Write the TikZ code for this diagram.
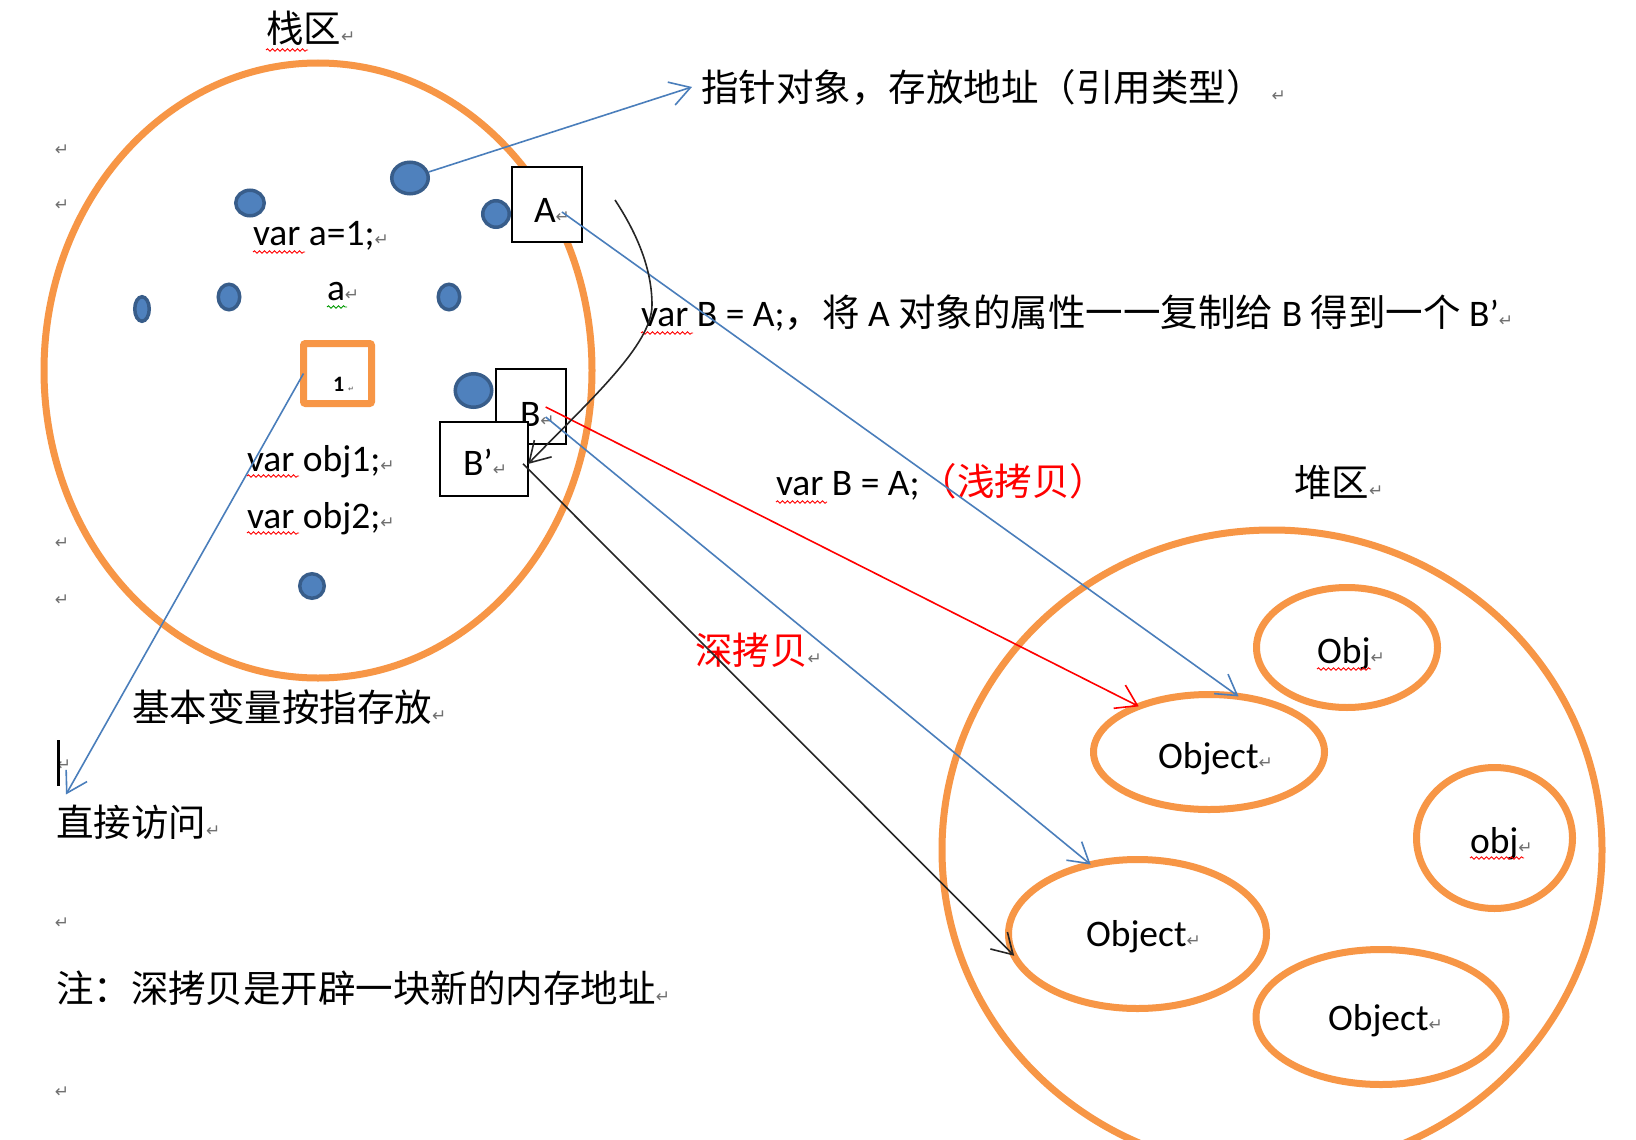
\documentclass[tikz,border=0pt]{standalone}
\usepackage{fontspec}
\setmainfont{Carlito}
\newfontfamily\cjk{Noto Sans CJK SC}
\newfontfamily\dvs{DejaVu Sans}
\usetikzlibrary{shapes.geometric,arrows.meta,decorations.pathmorphing,calc}
\definecolor{org}{HTML}{F79646}
\definecolor{dotf}{HTML}{4F81BD}
\definecolor{dotb}{HTML}{385D8A}
\definecolor{bline}{HTML}{4A7EBB}
\definecolor{retg}{HTML}{707070}
\newcommand\rmk{{\dvs\fontsize{17}{17}\selectfont\textcolor{retg}{↵}}}
\begin{document}
\begin{tikzpicture}[x=1pt,y=-1pt,
  txt/.style={inner sep=0pt,outer sep=0pt,anchor=base west,font=\fontsize{37.5}{45}\selectfont,text=black},
  oval/.style={ellipse,draw=org,line width=7pt,inner sep=0pt,outer sep=0pt},
  dot/.style={ellipse,fill=dotf,draw=dotb,line width=3.5pt,inner sep=0pt},
  box/.style={draw=black,line width=1.8pt,fill=white,inner sep=0pt,outer sep=0pt},
  bl/.style={draw=bline,line width=1.6pt,-{Straight Barb[length=20pt,width=24pt]}},
  rd/.style={draw=red,line width=1.6pt,-{Straight Barb[length=20pt,width=26pt]}},
  bk/.style={draw=black!85,line width=1.6pt,-{Straight Barb[length=20pt,width=24pt]}},
  sq/.style={decorate,decoration={snake,amplitude=1.2pt,segment length=5pt},line width=0.9pt,draw=red},
  mk/.style={inner sep=0pt,outer sep=0pt}
]
\useasboundingbox (0,0) rectangle (1636,1140);
\fill[white] (0,0) rectangle (1636,1140);
\clip (0,0) rectangle (1636,1140);

% stack area
\node[oval,minimum width=548pt,minimum height=615pt] (stack) at (318,370.5) {};
\node[dot,minimum width=36.5pt,minimum height=31.5pt] (d1) at (410,178) {};
\node[dot,minimum width=28.5pt,minimum height=25.5pt] (d2) at (250,203) {};
\node[dot,minimum width=26.5pt,minimum height=26.5pt] (d3) at (496,214) {};
\node[dot,minimum width=14.5pt,minimum height=24.5pt] (d4) at (142,309) {};
\node[dot,minimum width=21.5pt,minimum height=25.5pt] (d5) at (229,297) {};
\node[dot,minimum width=21.5pt,minimum height=25.5pt] (d6) at (449,297) {};
\node[dot,minimum width=36.5pt,minimum height=33.5pt] (d7) at (473.5,390.5) {};
\node[dot,minimum width=24.5pt,minimum height=24.5pt] (d8) at (312,586) {};

\node[box,minimum width=70pt,minimum height=75pt] (boxA) at (547,204.5) {};
\node[txt] (At) at (534,222) {A\rmk};
\node[box,minimum width=70pt,minimum height=75pt] (boxB) at (531,406.5) {};
\node[txt] (Bt) at (520,426) {B\rmk};
\node[box,minimum width=88pt,minimum height=74pt] (boxBp) at (484,459) {};
\node[txt] (Bpt) at (463,475) {B’\rmk};

\node[draw=org,line width=7pt,rounded corners=2pt,minimum width=68pt,minimum height=60pt,inner sep=0pt,outer sep=0pt] (one) at (337.5,373.5) {};
\node[inner sep=0pt,anchor=base west,font=\fontsize{22}{22}\selectfont\bfseries] (onet) at (333,391) {1\,{\dvs\fontsize{7}{7}\selectfont\textcolor{retg}{↵}}};

% heap area
\node[oval,minimum width=660pt,minimum height=640pt] (heap) at (1272,850) {};
\node[oval,minimum width=181pt,minimum height=120pt] (oa) at (1347,647.5) {};
\node[oval,minimum width=231pt,minimum height=115pt] (o1) at (1209,752) {};
\node[oval,minimum width=156pt,minimum height=141pt] (o3) at (1494.5,838) {};
\node[oval,minimum width=258pt,minimum height=149pt] (o4) at (1137.5,934) {};
\node[oval,minimum width=250pt,minimum height=135pt] (o5) at (1381,1017) {};
\node[txt] (Objt) at (1317,663) {Obj\rmk};
\node[txt] (O1t) at (1158,768) {Object\rmk};
\node[txt] (objt) at (1470,853) {obj\rmk};
\node[txt] (O2t) at (1086,946) {Object\rmk};
\node[txt] (O3t) at (1328,1030) {Object\rmk};

% texts
\node[txt] (zhan) at (266,43) {{\cjk 栈区}\rmk};
\node[txt] (ptr) at (701,101) {{\cjk 指针对象，存放地址（引用类型）}\hspace{8pt}\rmk};
\node[txt] (l2) at (641,326) {var B = A;{\cjk ，将} A {\cjk 对象的属性一一复制给} B {\cjk 得到一个} B’\rmk};
\node[txt] (l3) at (776,495) {var B = A;\textcolor{red}{\cjk （浅拷贝）}};
\node[txt,text=red] (shen) at (695,664) {{\cjk 深拷贝}\rmk};
\node[txt] (dui) at (1294,496) {{\cjk 堆区}\rmk};
\node[txt] (jiben) at (132,721) {{\cjk 基本变量按指存放}\rmk};
\node[txt] (zj) at (56,836) {{\cjk 直接访问}\rmk};
\node[txt] (zhu) at (56,1002) {{\cjk 注：深拷贝是开辟一块新的内存地址}\rmk};
\node[txt] (va1) at (253,245) {var a=1;\rmk};
\node[txt] (av) at (327,300) {a\rmk};
\node[txt] (vo1) at (247,471) {var obj1;\rmk};
\node[txt] (vo2) at (247,528) {var obj2;\rmk};

% margin marks and cursor
\node[mk] (m1) at (62,150) {\rmk};
\node[mk] (m2) at (62,205) {\rmk};
\node[mk] (m3) at (62,543) {\rmk};
\node[mk] (m4) at (62,600) {\rmk};
\node[mk] (m5) at (64,765) {\rmk};
\node[mk] (m6) at (62,923) {\rmk};
\node[mk] (m7) at (62,1092) {\rmk};
\fill[black] (56.5,740) rectangle (59.5,786);

% squiggles
\draw[sq] ([yshift=-7pt]zhan.base west) -- ++(42,0);
\draw[sq] ([yshift=-7pt]va1.base west) -- ++(52,0);
\draw[sq,draw=green!60!black] ([yshift=-7pt]av.base west) -- ++(20,0);
\draw[sq] ([yshift=-5pt]vo1.base west) -- ++(52,0);
\draw[sq] ([yshift=-5pt]vo2.base west) -- ++(52,0);
\draw[sq] ([yshift=-7pt]l2.base west) -- ++(52,0);
\draw[sq] ([yshift=-7pt]l3.base west) -- ++(51,0);
\draw[sq] ([yshift=-6pt]Objt.base west) -- ++(54,0);
\draw[sq] ([yshift=-5pt]objt.base west) -- ++(54,0);

% connectors
\draw[bl] (d1) -- ([xshift=-9pt]ptr.west);
\draw[bl] ([xshift=-8pt,yshift=-2pt]At.east) -- (o1.62);
\draw[rd] ([xshift=-9pt,yshift=7pt]Bt.east) -- (o1.147);
\draw[bl] ([xshift=-9pt,yshift=-3pt]Bt.east) -- (o4.124);
\draw[bk] ([xshift=16pt,yshift=-2pt]Bpt.east) -- (o4.190);
\coordinate (cs) at (615,200);
\draw[bk] (cs) .. controls (638,235) and (652,270) .. (652,305)
          .. controls (652,345) and (590,400) .. ([yshift=-5pt]boxBp.east);
\draw[bl] (one.west) -- ($(zj.north west)+(10,-10)$);
\end{tikzpicture}
\end{document}
